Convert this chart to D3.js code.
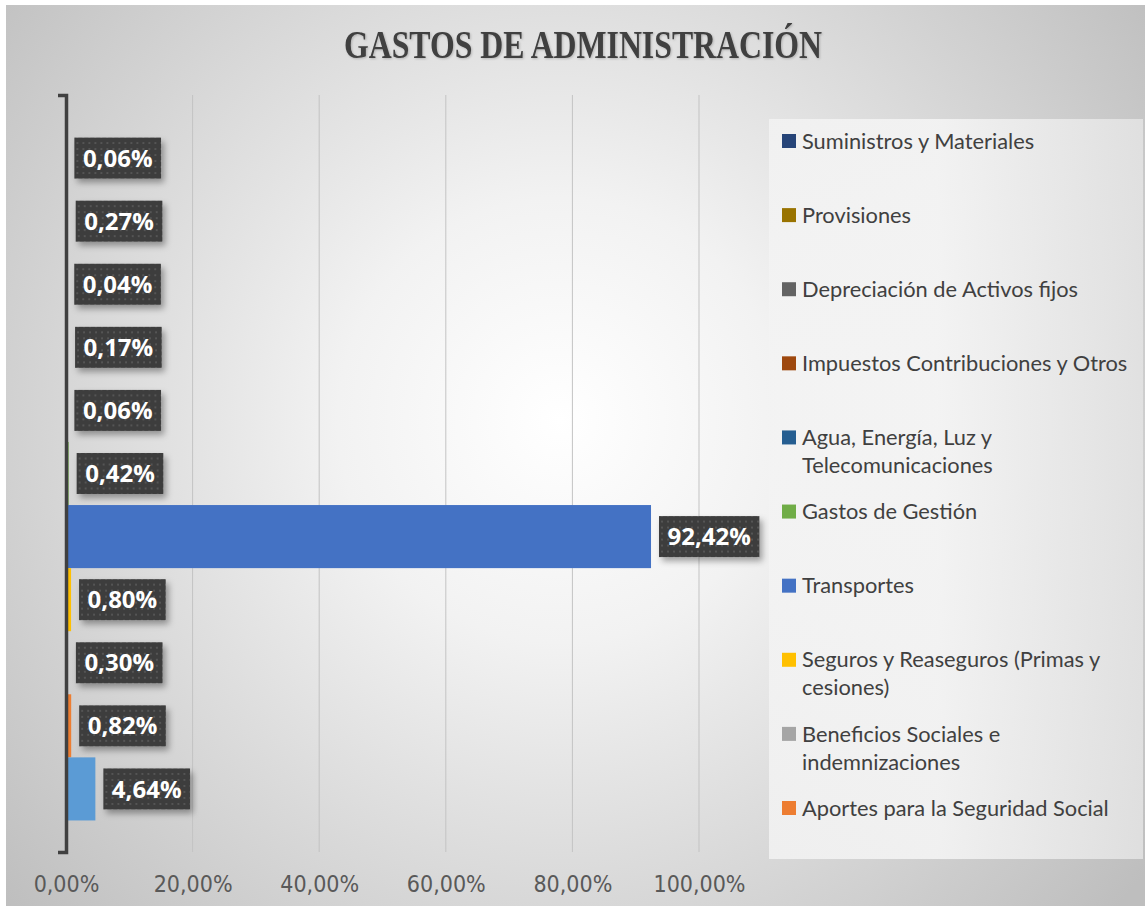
<!DOCTYPE html>
<html>
<head>
<meta charset="utf-8">
<script src="https://cdn.jsdelivr.net/npm/d3@7"></script>
<style>
  html, body { margin: 0; padding: 0; background: #ffffff; }
  svg { display: block; }
</style>
</head>
<body>
<svg id="chart" width="1145" height="909"></svg>
<script>
// ---- Data (top to bottom as drawn) ----
const seriesNames = [
  "Suministros y Materiales",
  "Provisiones",
  "Depreciación de Activos fijos",
  "Impuestos Contribuciones y Otros",
  "Agua, Energía, Luz y\nTelecomunicaciones",
  "Gastos de Gestión",
  "Transportes",
  "Seguros y Reaseguros (Primas y\ncesiones)",
  "Beneficios Sociales e\nindemnizaciones",
  "Aportes para la Seguridad Social",
  "Serie 1"              // bottom series; its legend entry is cut off in the original
];
const seriesValues = [0.06, 0.27, 0.04, 0.17, 0.06, 0.42, 92.42, 0.80, 0.30, 0.82, 4.64];
const seriesColors = ["#264478", "#997300", "#636363", "#9E480E", "#255E91", "#70AD47",
                      "#4472C4", "#FFC000", "#A5A5A5", "#ED7D31", "#5B9BD5"];
const legendShown = 10;   // only the first ten entries fit in the legend box
const xTicks = [0, 20, 40, 60, 80, 100];
const chartTitle = "GASTOS DE ADMINISTRACIÓN";

const fmt = v => v.toFixed(2).replace(".", ",") + "%";

const svg = d3.select("#chart");
const W = 1145, H = 909;
const defs = svg.append("defs");

// background radial gradient
const rg = defs.append("radialGradient").attr("id", "bg")
  .attr("gradientUnits", "userSpaceOnUse")
  .attr("cx", 560).attr("cy", 420).attr("r", 740);
rg.append("stop").attr("offset", "0%").attr("stop-color", "#ffffff");
rg.append("stop").attr("offset", "30%").attr("stop-color", "#f2f2f2");
rg.append("stop").attr("offset", "100%").attr("stop-color", "#bebebe");

// legend gradient
const lg = defs.append("linearGradient").attr("id", "lg")
  .attr("x1", "0").attr("y1", "0").attr("x2", "1").attr("y2", "0");
lg.append("stop").attr("offset", "0%").attr("stop-color", "#f3f3f3");
lg.append("stop").attr("offset", "45%").attr("stop-color", "#f6f6f6");
lg.append("stop").attr("offset", "100%").attr("stop-color", "#e4e4e4");

// dotted pattern for the label boxes
const pat = defs.append("pattern").attr("id", "dots")
  .attr("patternUnits", "userSpaceOnUse").attr("width", 6).attr("height", 6);
pat.append("rect").attr("width", 6).attr("height", 6).attr("fill", "#3c3c3c");
pat.append("rect").attr("x", 2).attr("y", 2).attr("width", 2).attr("height", 2).attr("fill", "#555555");

const sh = defs.append("filter").attr("id", "shadow")
  .attr("x", "-20%").attr("y", "-20%").attr("width", "150%").attr("height", "160%");
sh.append("feDropShadow").attr("dx", 3).attr("dy", 4).attr("stdDeviation", 3)
  .attr("flood-color", "#000").attr("flood-opacity", 0.35);

const tsh = defs.append("filter").attr("id", "tshadow");
tsh.append("feDropShadow").attr("dx", 1).attr("dy", 1).attr("stdDeviation", 1)
  .attr("flood-color", "#000").attr("flood-opacity", 0.2);

// white page + chart area
svg.append("rect").attr("width", W).attr("height", H).attr("fill", "#ffffff");
svg.append("rect").attr("x", 6).attr("y", 5).attr("width", W - 6).attr("height", 901)
  .attr("fill", "url(#bg)");

// title
svg.append("text")
  .attr("x", 583).attr("y", 58)
  .attr("text-anchor", "middle")
  .attr("font-family", "'Liberation Serif', 'Times New Roman', 'DejaVu Serif', serif")
  .attr("font-weight", "bold")
  .attr("font-size", 40)
  .attr("fill", "#404040")
  .attr("textLength", 478)
  .attr("lengthAdjust", "spacingAndGlyphs")
  .attr("filter", "url(#tshadow)")
  .text(chartTitle);

// scales
const plotTop = 95, plotBottom = 852;
const x = d3.scaleLinear().domain([0, 100]).range([66, 699]);
const y = d3.scaleBand().domain(seriesNames).range([plotTop, plotBottom])
  .paddingInner(0).paddingOuter(0.5);

// gridlines
svg.append("g").selectAll("line").data(xTicks.filter(t => t > 0)).join("line")
  .attr("x1", d => x(d)).attr("x2", d => x(d))
  .attr("y1", plotTop).attr("y2", plotBottom)
  .attr("stroke", "#c3c3c3").attr("stroke-width", 1);

// bars
const data = seriesNames.map((n, i) => ({ name: n, value: seriesValues[i], color: seriesColors[i] }));
svg.append("g").selectAll("rect").data(data).join("rect")
  .attr("x", x(0))
  .attr("y", d => y(d.name))
  .attr("width", d => x(d.value) - x(0))
  .attr("height", y.bandwidth())
  .attr("fill", d => d.color);

// y axis (bracket-shaped domain line)
const yAxis = d3.axisLeft(y).tickValues([]).tickSizeOuter(8);
const yg = svg.append("g").attr("transform", `translate(${x(0)},0)`).call(yAxis);
yg.select(".domain").attr("stroke", "#404040").attr("stroke-width", 3.5).attr("fill", "none");

// x axis labels
const xAxis = d3.axisBottom(x).tickValues(xTicks).tickSize(0)
  .tickFormat(d => d.toFixed(2).replace(".", ",") + "%");
const xg = svg.append("g").attr("transform", `translate(0,${plotBottom})`).call(xAxis);
xg.select(".domain").remove();
xg.selectAll("text")
  .attr("y", 40).attr("dy", 0)
  .attr("font-family", "'Liberation Sans Narrow', 'DejaVu Sans Condensed', sans-serif")
  .attr("font-size", 23)
  .attr("fill", "#595959");

// data labels
const lab = svg.append("g").selectAll("g").data(data).join("g")
  .attr("transform", d => `translate(${x(d.value) + 8},${y(d.name) + y.bandwidth() / 2})`);
lab.append("rect").attr("class", "box")
  .attr("fill", "url(#dots)").attr("filter", "url(#shadow)");
lab.append("text")
  .attr("font-family", "'Open Sans', sans-serif")
  .attr("font-weight", "bold")
  .attr("font-size", 24)
  .attr("fill", "#ffffff")
  .attr("dy", "0.36em")
  .text(d => fmt(d.value));
lab.each(function () {
  const g = d3.select(this);
  const t = g.select("text");
  const w = t.node().getComputedTextLength();
  const bw = w + 17;
  g.select("rect").attr("x", 0).attr("y", -20.5).attr("width", bw).attr("height", 41);
  t.attr("x", bw / 2).attr("text-anchor", "middle");
});

// legend
svg.append("rect").attr("x", 769).attr("y", 119).attr("width", 374).attr("height", 740)
  .attr("fill", "url(#lg)").attr("opacity", 0.85);
const legendData = data.slice(0, legendShown);
const ly = d3.scalePoint().domain(legendData.map(d => d.name)).range([141, 808]);
const li = svg.append("g").selectAll("g").data(legendData).join("g")
  .attr("transform", d => `translate(0,${ly(d.name)})`);
li.append("rect").attr("x", 782).attr("y", -7).attr("width", 14).attr("height", 14)
  .attr("fill", d => d.color);
li.append("text")
  .attr("x", 802)
  .attr("font-family", "Lato, 'Open Sans', sans-serif")
  .attr("font-size", 21.8)
  .attr("fill", "#404040")
  .each(function (d) {
    const lines = d.name.split("\n");
    d3.select(this).selectAll("tspan").data(lines).join("tspan")
      .attr("x", 802)
      .attr("y", (l, i) => i * 28)
      .attr("dy", "0.35em")
      .text(l => l);
  });
</script>
</body>
</html>
